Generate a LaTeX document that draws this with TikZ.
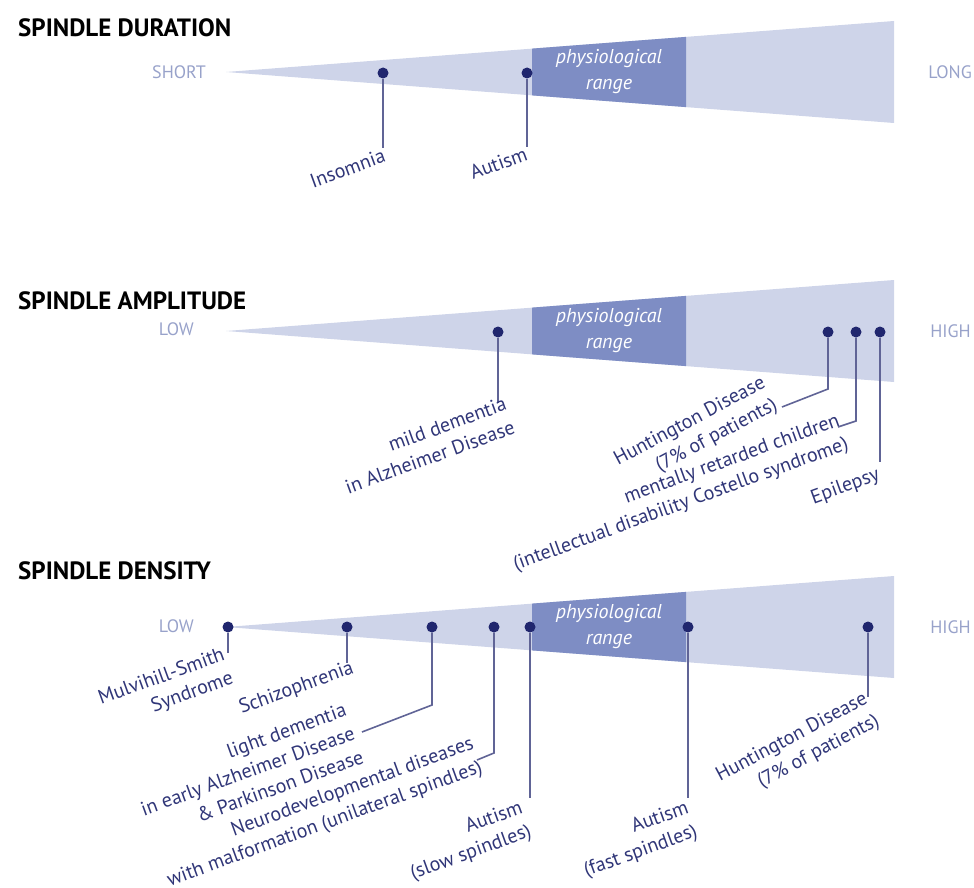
\documentclass[tikz,border=0pt]{standalone}
\usepackage{fontspec}
\setmainfont{PT Sans}

\definecolor{wedgeblue}{RGB}{206,212,233}
\definecolor{rangeblue}{RGB}{126,141,196}
\definecolor{dotblue}{RGB}{32,38,110}
\definecolor{leadgrey}{RGB}{96,100,150}
\definecolor{labelblue}{RGB}{48,54,120}
\definecolor{endblue}{RGB}{152,162,202}

\tikzset{
  dot/.style={circle,fill=dotblue,inner sep=0pt,minimum size=11pt},
  lead/.style={draw=leadgrey,line width=1.6pt},
  lbl/.style={text=labelblue,font=\fontsize{20}{25}\selectfont,rotate=20,inner sep=0pt,align=right,anchor=north east},
  endtxt/.style={text=endblue,font=\fontsize{18}{22}\selectfont,inner sep=0pt},
  title/.style={font=\fontsize{25}{29}\selectfont\bfseries,anchor=west,inner sep=0pt},
  rangetxt/.style={text=white,font=\fontsize{20}{26}\selectfont\itshape,align=center}
}

\begin{document}
\begin{tikzpicture}[x=1pt,y=-1pt]
  \useasboundingbox (0,0) rectangle (974,888);

  % wedges with the physiological range
  \foreach \c/\n in {72/dur,331/amp,627/den} {
    \fill[wedgeblue] (226,\c) -- (894,\c-51) -- (894,\c+51) -- cycle;
    \fill[rangeblue] (532,\c-23.4) -- (686,\c-35.1) -- (686,\c+35.1) -- (532,\c+23.4) -- cycle;
    \node[rangetxt] (range-\n) at (609,\c) {physiological\\range};
  }

  % titles and ends
  \node[title] (dur-title) at (18,28) {SPINDLE DURATION};
  \node[title] (amp-title) at (18,301) {SPINDLE AMPLITUDE};
  \node[title] (den-title) at (18,571) {SPINDLE DENSITY};
  \node[endtxt,anchor=east] (short) at (206,72) {SHORT};
  \node[endtxt,anchor=east] (long) at (972,72) {LONG};
  \node[endtxt,anchor=east] (amp-low) at (194,329) {LOW};
  \node[endtxt,anchor=east] (amp-high) at (971,331) {HIGH};
  \node[endtxt,anchor=east] (den-low) at (194,626) {LOW};
  \node[endtxt,anchor=east] (den-high) at (971,627) {HIGH};

  % spindle duration
  \node[dot] (ins) at (383,73) {};
  \node[dot] (aut) at (527,73) {};
  \coordinate (ins-e) at (383,148);
  \coordinate (aut-e) at (527,147);
  \draw[lead] (ins) -- (ins-e);
  \draw[lead] (aut) -- (aut-e);
  \node[lbl] (ins-t) at (382,148) {Insomnia};
  \node[lbl] (aut-t) at (524,146) {Autism};

  % spindle amplitude
  \node[dot] (mild) at (498,332) {};
  \node[dot] (hunt) at (828,332) {};
  \node[dot] (ment) at (856,332) {};
  \node[dot] (epi) at (880,332) {};
  \coordinate (mild-e) at (498,403);
  \coordinate (hunt-b) at (828,389);
  \coordinate (hunt-e) at (782,407);
  \coordinate (ment-b) at (856,421);
  \coordinate (ment-e) at (838,427);
  \coordinate (epi-e) at (880,462);
  \draw[lead] (mild) -- (mild-e);
  \draw[lead] (hunt) -- (hunt-b) -- (hunt-e);
  \draw[lead] (ment) -- (ment-b) -- (ment-e);
  \draw[lead] (epi) -- (epi-e);
  \node[lbl] (mild-t) at (503,396) {mild dementia\\in Alzheimer Disease};
  \node[lbl,rotate=8] (hunt-t) at (760,374) {Huntington Disease\\(7\% of patients)};
  \node[lbl] (ment-t) at (836,412) {mentally retarded children\\(intellectual disability Costello syndrome)};
  \node[lbl] (epi-t) at (876,466) {Epilepsy};

  % spindle density
  \node[dot] (mulv) at (228,627) {};
  \node[dot] (schiz) at (347,627) {};
  \node[dot] (light) at (432,627) {};
  \node[dot] (neuro) at (494,627) {};
  \node[dot] (auts) at (530,627) {};
  \node[dot] (autf) at (688,627) {};
  \node[dot] (huntd) at (868,627) {};
  \coordinate (mulv-e) at (228,653);
  \coordinate (schiz-e) at (347,663);
  \coordinate (light-b) at (432,705);
  \coordinate (light-e) at (362,732);
  \coordinate (neuro-b) at (494,753);
  \coordinate (neuro-e) at (477,760);
  \coordinate (auts-e) at (530,798);
  \coordinate (autf-e) at (688,798);
  \coordinate (huntd-e) at (868,697);
  \draw[lead] (mulv) -- (mulv-e);
  \draw[lead] (schiz) -- (schiz-e);
  \draw[lead] (light) -- (light-b) -- (light-e);
  \draw[lead] (neuro) -- (neuro-b) -- (neuro-e);
  \draw[lead] (auts) -- (auts-e);
  \draw[lead] (autf) -- (autf-e);
  \draw[lead] (huntd) -- (huntd-e);
  \node[lbl] (mulv-t) at (221,646) {Mulvihill-Smith\\Syndrome};
  \node[lbl] (schiz-t) at (350,659) {Schizophrenia};
  \node[lbl] (light-t) at (343,702) {light dementia\\in early Alzheimer Disease\\\& Parkinson Disease};
  \node[lbl] (neuro-t) at (470,735) {Neurodevelopmental diseases\\with malformation (unilateral spindles)};
  \node[lbl] (auts-t) at (519,799) {Autism\\(slow spindles)};
  \node[lbl] (autf-t) at (685,799) {Autism\\(fast spindles)};
  \node[lbl,rotate=8] (huntd-t) at (862,690) {Huntington Disease\\(7\% of patients)};
\end{tikzpicture}
\end{document}
